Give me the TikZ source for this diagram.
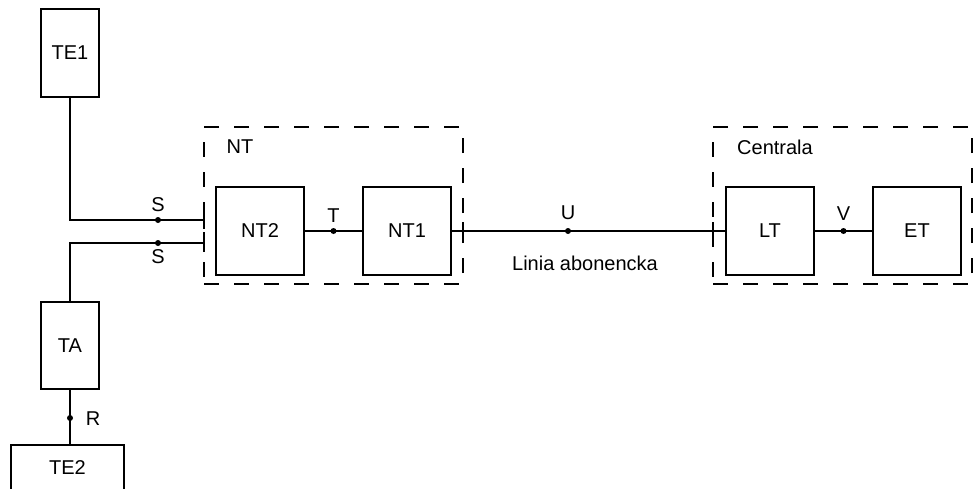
\documentclass[tikz,border=0pt]{standalone}
\usepackage{fontspec}
\setmainfont{Liberation Sans}

\tikzset{
  unit/.style={draw, line width=1.5pt, minimum width=66pt, minimum height=66pt, inner sep=0pt},
  term/.style={draw, line width=1.5pt, minimum width=43.5pt, minimum height=66pt, inner sep=0pt},
  openbox/.style={minimum width=83.25pt, minimum height=33pt, inner sep=0pt},
  group/.style={draw, line width=1.7pt, dash pattern=on 11pt off 11.5pt, inner sep=0pt},
  dot/.style={circle, fill, inner sep=0pt, minimum size=4.5pt},
}

\begin{document}
\begin{tikzpicture}[x=0.75pt, y=-0.75pt, line width=1.3pt, font=\fontsize{15}{18}\selectfont]
\clip (0,0) rectangle (975,489);

% terminale abonenta (lewa strona)
\node[term] (te1) at (70,53) {TE1};
\node[term, minimum height=65pt] (ta) at (70,345.5) {TA};
\node[openbox] (te2) at (67.5,468) {TE2};
\draw[line width=1.5pt] (te2.south west) -- (te2.north west) -- (te2.north east) -- (te2.south east);

% ================= NT =================
\node[group, minimum width=194.25pt, minimum height=117.75pt] (nt) at (333.5,205.5) {};
\node (ntlab) at (240,147) {NT};
\node[unit] (nt2) at (260,231) {NT2};
\node[unit] (nt1) at (407,231) {NT1};

% ================= Centrala =================
\node[group, minimum width=194.25pt, minimum height=117.75pt] (co) at (842.5,205.5) {};
\node (colab) at (775,147) {Centrala};
\node[unit] (lt) at (770,231) {LT};
\node[unit] (et) at (917,231) {ET};

% punkty odniesienia
\coordinate (s1) at (204,220);
\coordinate (s2) at (204,243);
\coordinate (u1) at (463,231);
\coordinate (u2) at (713,231);

% polaczenia
\draw (te1.south) |- (s1);
\draw (ta.north) |- (s2);
\draw (ta.south) -- (ta.south |- te2.north);
\draw (nt2.east) -- (nt1.west);
\draw (nt1.east) -- (lt.west);
\draw (lt.east) -- (et.west);

% kreski na granicy
\draw (s1) ++(0,-9) -- ++(0,18);
\draw (s2) ++(0,-9) -- ++(0,18);
\draw (u1) ++(0,-9) -- ++(0,18);
\draw (u2) ++(0,-9) -- ++(0,18);

% punkty S, T, U, V, R
\node[dot] (ps1) at (158,220) {};
\node[dot] (ps2) at (158,243) {};
\node[dot] (pt) at (333.5,231) {};
\node[dot] (pu) at (568,231) {};
\node[dot] (pv) at (843.5,231) {};
\node[dot] (pr) at (70,418) {};

\node (ls1) at (158,205) {S};
\node (ls2) at (158,257) {S};
\node (lt1) at (333.5,216) {T};
\node (lu) at (568,213) {U};
\node (lv) at (843.5,214) {V};
\node (lr) at (93,419) {R};
\node (lline) at (585,263) {Linia abonencka};

\end{tikzpicture}
\end{document}
